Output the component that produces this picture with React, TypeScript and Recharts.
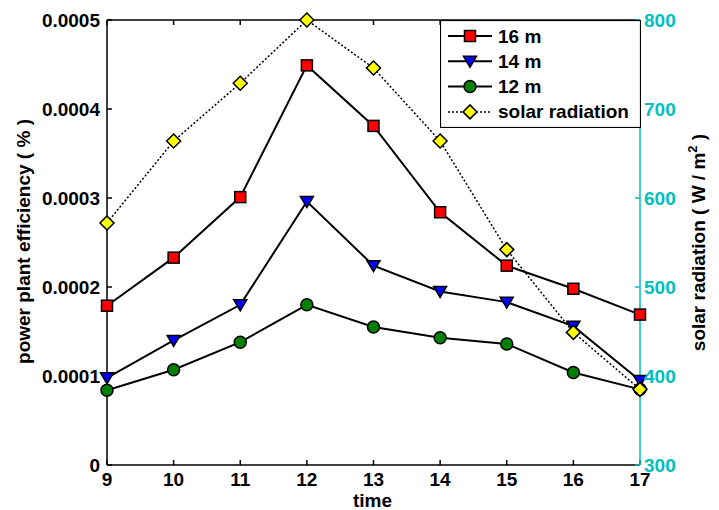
import {
  ComposedChart,
  Line,
  XAxis,
  YAxis,
  Legend,
} from "recharts";

const HOURS = [9, 10, 11, 12, 13, 14, 15, 16, 17];
const EFF_16M = [0.000179, 0.000233, 0.000301, 0.000449, 0.000381, 0.000284, 0.000224, 0.000198, 0.000169];
const EFF_14M = [0.000098, 0.00014, 0.00018, 0.000296, 0.000224, 0.000195, 0.000183, 0.000156, 0.000095];
const EFF_12M = [0.000084, 0.000107, 0.000138, 0.00018, 0.000155, 0.000143, 0.000136, 0.000104, 0.000085];
const SOLAR = [572, 664, 729, 800, 746, 664, 542, 449, 385];

const EFF_TICKS = [0, 0.0001, 0.0002, 0.0003, 0.0004, 0.0005];
const SOLAR_TICKS = [300, 400, 500, 600, 700, 800];

const LEGEND_ITEMS = [
  { key: "m16", name: "16 m", shape: "square", dashed: false },
  { key: "m14", name: "14 m", shape: "triangle", dashed: false },
  { key: "m12", name: "12 m", shape: "circle", dashed: false },
  { key: "solar", name: "solar radiation", shape: "diamond", dashed: true },
];

const CYAN = "#00bfbf";
const FONT = "'Liberation Sans', Arial, sans-serif";

const data = HOURS.map((h, i) => ({
  hour: h,
  m16: EFF_16M[i],
  m14: EFF_14M[i],
  m12: EFF_12M[i],
  solar: SOLAR[i],
}));

function Marker({ shape, cx, cy }: { shape: string; cx: number; cy: number }) {
  if (shape === "square") {
    return (
      <rect x={cx - 5.5} y={cy - 5.5} width={11} height={11} fill="#ff0000" stroke="#000" strokeWidth={1.5} />
    );
  }
  if (shape === "triangle") {
    return (
      <polygon
        points={`${cx - 6.5},${cy - 5} ${cx + 6.5},${cy - 5} ${cx},${cy + 6}`}
        fill="#0000ff"
        stroke="#000"
        strokeWidth={1.5}
      />
    );
  }
  if (shape === "circle") {
    return <circle cx={cx} cy={cy} r={6} fill="#008000" stroke="#000" strokeWidth={1.5} />;
  }
  return (
    <polygon
      points={`${cx},${cy - 7} ${cx + 7},${cy} ${cx},${cy + 7} ${cx - 7},${cy}`}
      fill="#ffff00"
      stroke="#000"
      strokeWidth={1.5}
    />
  );
}

const dotFor = (shape: string) => (p: any) => (
  <g key={`${shape}-${p.index}`}>
    <Marker shape={shape} cx={p.cx} cy={p.cy} />
  </g>
);

function LegendBox() {
  return (
    <svg width={201} height={108} style={{ display: "block" }}>
      <rect x={0.5} y={0.5} width={200} height={107} fill="#fff" stroke="#000" strokeWidth={1.2} />
      {LEGEND_ITEMS.map((item, i) => {
        const y = 16 + i * 25.3;
        return (
          <g key={item.key}>
            <line
              x1={8}
              x2={52}
              y1={y}
              y2={y}
              stroke="#000"
              strokeWidth={item.dashed ? 1.5 : 2}
              strokeDasharray={item.dashed ? "2 2" : undefined}
            />
            <Marker shape={item.shape} cx={30} cy={y} />
            <text
              x={58}
              y={y}
              dominantBaseline="central"
              fontFamily={FONT}
              fontWeight="bold"
              fontSize={19}
              fill="#000"
            >
              {item.name}
            </text>
          </g>
        );
      })}
    </svg>
  );
}

function LeftLabel({ viewBox }: any) {
  const cx = viewBox.x + 30;
  const cy = viewBox.y + viewBox.height / 2 - 1;
  return (
    <text
      x={cx}
      y={cy}
      transform={`rotate(-90, ${cx}, ${cy})`}
      textAnchor="middle"
      fontFamily={FONT}
      fontWeight="bold"
      fontSize={19}
      fill="#000"
    >
      power plant efficiency ( % )
    </text>
  );
}

function RightLabel({ viewBox }: any) {
  const cx = viewBox.x + 65;
  const cy = viewBox.y + viewBox.height / 2;
  return (
    <text
      x={cx}
      y={cy}
      transform={`rotate(-90, ${cx}, ${cy})`}
      textAnchor="middle"
      fontFamily={FONT}
      fontWeight="bold"
      fontSize={19}
      fill="#000"
    >
      solar radiation ( W / m
      <tspan dy={-8} fontSize={13}>2</tspan>
      <tspan dy={8}> )</tspan>
    </text>
  );
}

function BottomLabel({ viewBox }: any) {
  const cx = viewBox.x + viewBox.width / 2 - 1;
  const cy = viewBox.y + 42;
  return (
    <text x={cx} y={cy} textAnchor="middle" fontFamily={FONT} fontWeight="bold" fontSize={19} fill="#000">
      time
    </text>
  );
}

const tickStyle = { fontFamily: FONT, fontWeight: "bold", fontSize: 19, fill: "#000" };

export default function App() {
  return (
    <div style={{ position: "absolute", left: 0, top: 0, width: 719, height: 510, background: "#fff" }}>
      <ComposedChart width={719} height={510} data={data} margin={{ top: 0, right: 0, bottom: 0, left: 0 }}>
        <XAxis
          xAxisId="bottom"
          dataKey="hour"
          type="number"
          domain={[9, 17]}
          ticks={HOURS}
          height={45}
          stroke="#000"
          strokeWidth={1.5}
          tickSize={-5}
          tickMargin={13}
          tick={tickStyle}
          label={<BottomLabel />}
        />
        <XAxis
          xAxisId="top"
          orientation="top"
          dataKey="hour"
          type="number"
          domain={[9, 17]}
          ticks={HOURS}
          height={20}
          stroke="#000"
          strokeWidth={1.5}
          tickSize={-5}
          tickFormatter={() => ""}
        />
        <YAxis
          yAxisId="eff"
          domain={[0, 0.0005]}
          ticks={EFF_TICKS}
          width={107}
          stroke="#000"
          strokeWidth={1.5}
          tickSize={-5}
          tickMargin={12}
          tick={tickStyle}
          tickFormatter={(v: number) => String(v)}
          label={<LeftLabel />}
        />
        <YAxis
          yAxisId="solar"
          orientation="right"
          domain={[300, 800]}
          ticks={SOLAR_TICKS}
          width={79}
          stroke={CYAN}
          strokeWidth={1.5}
          tickSize={-5}
          tickMargin={9}
          tick={{ ...tickStyle, fill: CYAN }}
          label={<RightLabel />}
        />
        <Line
          xAxisId="bottom"
          yAxisId="eff"
          dataKey="m16"
          stroke="#000"
          strokeWidth={2}
          dot={dotFor("square")}
          activeDot={false}
          isAnimationActive={false}
        />
        <Line
          xAxisId="bottom"
          yAxisId="eff"
          dataKey="m14"
          stroke="#000"
          strokeWidth={2}
          dot={dotFor("triangle")}
          activeDot={false}
          isAnimationActive={false}
        />
        <Line
          xAxisId="bottom"
          yAxisId="eff"
          dataKey="m12"
          stroke="#000"
          strokeWidth={2}
          dot={dotFor("circle")}
          activeDot={false}
          isAnimationActive={false}
        />
        <Line
          xAxisId="bottom"
          yAxisId="solar"
          dataKey="solar"
          stroke="#000"
          strokeWidth={1.5}
          strokeDasharray="2 2"
          dot={dotFor("diamond")}
          activeDot={false}
          isAnimationActive={false}
        />
        <Legend
          layout="vertical"
          align="center"
          verticalAlign="middle"
          wrapperStyle={{ left: 440, top: 20, width: 201, height: 108 }}
          content={() => <LegendBox />}
        />
      </ComposedChart>
    </div>
  );
}
